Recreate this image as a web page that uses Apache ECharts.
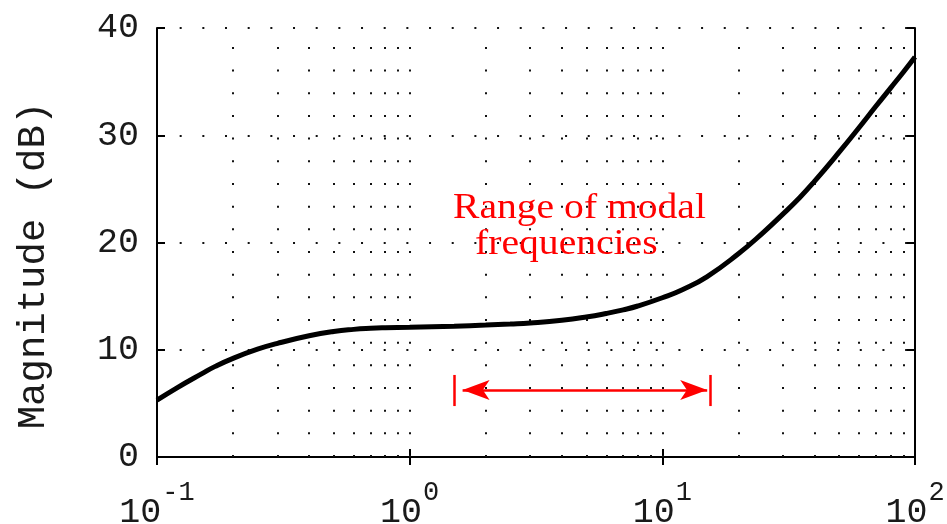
<!DOCTYPE html>
<html>
<head>
<meta charset="utf-8">
<script src="https://cdn.jsdelivr.net/npm/echarts@6/dist/echarts.min.js"></script>
<style>
  html, body { margin: 0; padding: 0; background: #fff; }
  #chart { width: 947px; height: 524px; }
</style>
</head>
<body>
<div id="chart"></div>
<script>
// frequency response
const freqs = [0.1, 0.12, 0.15, 0.17, 0.2, 0.25, 0.3, 0.4, 0.5, 0.6, 0.7, 0.8, 1, 1.5, 2, 2.5, 3, 4, 5, 6, 7, 8, 10, 12, 15, 20, 25, 30, 35, 40, 50, 60, 70, 80, 90, 100];
const magnitudes = [5.3, 6.45, 7.75, 8.45, 9.2, 10.05, 10.6, 11.3, 11.7, 11.9, 12.0, 12.05, 12.1, 12.2, 12.3, 12.4, 12.5, 12.75, 13.05, 13.38, 13.72, 14.08, 14.85, 15.6, 16.8, 18.95, 20.9, 22.65, 24.2, 25.7, 28.4, 30.7, 32.7, 34.4, 35.9, 37.3];

// dotted vertical grid (log minor positions)
const gridFreqs = [0.2, 0.3, 0.4, 0.5, 0.6, 0.7, 0.8, 0.9, 1, 2, 3, 4, 5, 6, 7, 8, 9, 10, 20, 30, 40, 50, 60, 70, 80, 90];
const yTicks = [0, 10, 20, 30, 40];

// "range of modal frequencies" annotation
const rangeBars = [1.507, 15.5];
const rangeBarSpan = [4.75, 7.65];
const arrowEnds = [1.62, 15.05];
const arrowLevel = 6.25;
const noteLines = ['Range of modal', 'frequencies'];
const notePos = [[4.7, 23.2], [4.17, 19.85]];

const dotStyle = { type: [2, 20.67], color: '#111', width: 2 };
const monoFont = '"Liberation Mono", "DejaVu Sans Mono", monospace';

const chart = echarts.init(document.getElementById('chart'), null, { renderer: 'canvas' });

const logAxis = (pos, showLabel) => ({
  type: 'log',
  logBase: 10,
  min: 0.1,
  max: 100,
  position: pos,
  axisLine: { show: true, lineStyle: { color: '#000', width: 2 } },
  axisTick: { show: true, inside: true, length: 8, lineStyle: { color: '#000', width: 2 } },
  splitLine: { show: false },
  minorTick: { show: false },
  axisLabel: {
    show: showLabel,
    margin: 22,
    showMinLabel: true,
    showMaxLabel: true,
    // spacer token sets the line height so the exponent can ride high
    formatter: (v) => `{b|10}{e|${Math.round(Math.log10(v))}}{s| }`,
    rich: {
      b: { fontFamily: monoFont, fontSize: 35, color: '#1a1a1a', verticalAlign: 'bottom', lineHeight: 35 },
      e: { fontFamily: monoFont, fontSize: 27, color: '#1a1a1a', verticalAlign: 'top', lineHeight: 27, padding: [0, 0, 0, 1] },
      s: { fontSize: 1, lineHeight: 51, width: 0 },
    },
  },
});

const valAxis = (pos, showLabel) => ({
  type: 'value',
  min: 0,
  max: 40,
  interval: 10,
  position: pos,
  axisLine: { show: true, lineStyle: { color: '#000', width: 2 } },
  axisTick: { show: true, inside: true, length: 8, lineStyle: { color: '#000', width: 2 } },
  splitLine: { show: showLabel, lineStyle: dotStyle },
  axisLabel: {
    show: showLabel,
    margin: 18,
    fontFamily: monoFont,
    fontSize: 35,
    color: '#1a1a1a',
    formatter: (v) => (yTicks.includes(v) ? String(v) : ''),
  },
});

const yLeft = valAxis('left', true);
yLeft.name = 'Magnitude (dB)';
yLeft.nameLocation = 'middle';
yLeft.nameRotate = 90;
yLeft.nameGap = 104;
yLeft.nameTextStyle = {
  fontFamily: monoFont, fontSize: 39, color: '#1a1a1a', padding: [0, 46, 0, 0],
};

const option = {
  animation: false,
  backgroundColor: '#fff',
  grid: {
    left: 157, right: 32, top: 28, bottom: 67, containLabel: false, outerBoundsMode: 'none',
  },
  xAxis: [logAxis('bottom', true), logAxis('top', false)],
  yAxis: [yLeft, valAxis('right', false)],
  series: [
    {
      name: 'Magnitude',
      type: 'line',
      data: freqs.map((f, i) => [f, magnitudes[i]]),
      showSymbol: false,
      smooth: 0.5,
      silent: true,
      z: 5,
      lineStyle: { color: '#000', width: 5 },
      markLine: {
        silent: true,
        symbol: 'none',
        label: { show: false },
        lineStyle: dotStyle,
        data: gridFreqs.map((f) => ({ xAxis: f })),
      },
    },
    {
      name: 'range',
      type: 'line',
      data: [],
      silent: true,
      z: 4,
      markLine: {
        silent: true,
        label: { show: false },
        symbol: ['arrow', 'arrow'],
        symbolSize: [15, 27],
        lineStyle: { color: '#ff0000', width: 2.5, type: 'solid' },
        data: [
          [{ coord: [arrowEnds[0], arrowLevel] }, { coord: [arrowEnds[1], arrowLevel] }],
          ...rangeBars.map((f) => [
            { coord: [f, rangeBarSpan[0]], symbol: 'none' },
            { coord: [f, rangeBarSpan[1]], symbol: 'none' },
          ]),
        ],
      },
    },
  ],
};

chart.setOption(option);

// red note, placed through the chart's own scales
const noteGraphics = noteLines.map((t, i) => {
  const [px, py] = chart.convertToPixel({ xAxisIndex: 0, yAxisIndex: 0 }, notePos[i]);
  return {
    type: 'text',
    x: px,
    y: py,
    scaleX: 1.1,
    z: 10,
    silent: true,
    style: {
      text: t,
      fill: '#ff0000',
      font: '36px "Liberation Serif", "Times New Roman", serif',
      textAlign: 'center',
      textVerticalAlign: 'middle',
      align: 'center',
      verticalAlign: 'middle',
    },
  };
});
chart.setOption({ graphic: noteGraphics });
</script>
</body>
</html>
